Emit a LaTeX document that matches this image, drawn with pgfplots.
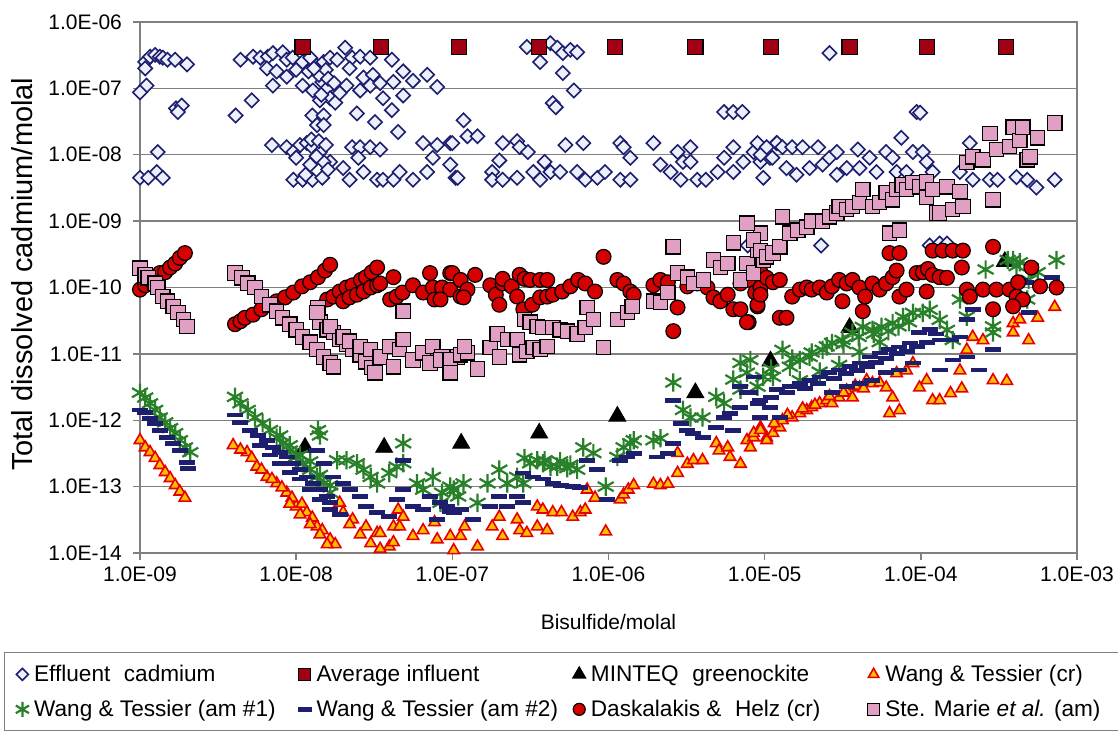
\documentclass[border=0pt]{standalone}
\usepackage{pgfplots}
\pgfplotsset{compat=1.18}
\usepackage{fontspec}
\setmainfont{Liberation Sans}

\definecolor{effnavy}{RGB}{30,30,110}
\definecolor{efffill}{RGB}{236,240,250}
\definecolor{influent}{RGB}{160,0,20}
\definecolor{wtorange}{RGB}{255,190,0}
\definecolor{wtred}{RGB}{230,0,0}
\definecolor{wtgreen}{RGB}{40,128,40}
\definecolor{dhred}{RGB}{215,0,0}
\definecolor{smpink}{RGB}{225,160,195}

\begin{document}
\begin{tikzpicture}
\begin{axis}[
    width=468.5pt, height=265.5pt, scale only axis,
    xmode=log, ymode=log,
    xmin=1e-9, xmax=1e-3, ymin=1e-14, ymax=1e-6,
    clip=false,
    xtick={1e-9,1e-8,1e-7,1e-6,1e-5,1e-4,1e-3},
    xticklabels={1.0E-09,1.0E-08,1.0E-07,1.0E-06,1.0E-05,1.0E-04,1.0E-03},
    ytick={1e-14,1e-13,1e-12,1e-11,1e-10,1e-9,1e-8,1e-7,1e-6},
    yticklabels={1.0E-14,1.0E-13,1.0E-12,1.0E-11,1.0E-10,1.0E-09,1.0E-08,1.0E-07,1.0E-06},
    xminorticks=false, yminorticks=false,
    tick align=outside, tick pos=left, major tick length=3.5pt,
    tick style={gray, line width=0.7pt},
    axis line style={gray, line width=0.7pt},
    ymajorgrids, grid style={gray, line width=0.7pt},
    ticklabel style={font=\fontsize{10.5}{12}\selectfont},
    yticklabel style={xshift=-2pt},
    xlabel={Bisulfide/molal},
    ylabel={Total dissolved cadmium/molal},
    xlabel style={at={(axis description cs:0.5,-0.13)}, anchor=center, font=\fontsize{10.5}{12}\selectfont},
    ylabel style={at={(axis description cs:-0.126,0.525)}, anchor=center, font=\fontsize{14.5}{16}\selectfont},
    legend columns=4,
    legend cell align=left,
    legend image code/.code={\path (0pt,-3.5pt) (9pt,3.5pt); \draw[#1] plot coordinates {(5.5pt,0pt)};},
    legend style={at={(axis description cs:-0.1451,-0.1864)}, anchor=north west,
        draw=gray, line width=0.7pt, inner xsep=3pt, inner ysep=4pt, row sep=3.8pt,
        font=\fontsize{11.3}{13}\selectfont,
        /tikz/every even column/.append style={column sep=0pt}},
]

% Effluent cadmium
\addplot[only marks, mark=square*, mark size=2.5pt,
    mark options={rotate=45, draw=effnavy, fill=efffill, line width=0.8pt},
    legend image post style={mark size=2.1pt}] coordinates {
(1.08e-9,2.5e-7)(1.16e-9,3.0e-7)(1.25e-9,3.2e-7)(1.34e-9,3.0e-7)(1.4e-9,2.9e-7)(1.5e-9,2.7e-7)
(1.68e-9,2.7e-7)(2.0e-9,2.3e-7)(1.08e-9,2.0e-7)(1.1e-9,1.1e-7)(1.0e-9,8.7e-8)(1.7e-9,5.0e-8)
(1.85e-9,5.5e-8)(1.75e-9,4.4e-8)(1.3e-9,1.1e-8)(1.0e-9,4.5e-9)(1.13e-9,4.5e-9)(1.28e-9,5.5e-9)(1.4e-9,4.5e-9)
(4.4e-9,2.7e-7)(5.2e-9,6.6e-8)(4.1e-9,3.9e-8)(5.3e-9,3.0e-7)(5.9e-9,2.9e-7)(6.6e-9,3.0e-7)
(7.1e-9,3.4e-7)(8.2e-9,3.5e-7)(8.7e-9,2.7e-7)(9.5e-9,2.9e-7)(6.5e-9,2.0e-7)(7.5e-9,1.8e-7)
(8.7e-9,1.5e-7)(1.0e-8,1.9e-7)(1.1e-8,2.5e-7)(1.23e-8,2.9e-7)(1.36e-8,2.2e-7)(1.5e-8,2.5e-7)
(1.65e-8,2.9e-7)(1.83e-8,2.7e-7)(7.1e-9,1.1e-7)(1.1e-8,1.1e-7)(1.28e-8,9.3e-8)(1.47e-8,1.25e-7)
(1.58e-8,1.0e-7)(1.65e-8,7.1e-8)(1.78e-8,6.1e-8)(1.42e-8,6.6e-8)(1.27e-8,3.9e-8)(1.5e-8,3.9e-8)
(1.36e-8,2.8e-8)(1.5e-8,2.8e-8)(7.0e-9,1.4e-8)(8.7e-9,1.3e-8)(9.6e-9,1.1e-8)(1.06e-8,1.4e-8)
(1.17e-8,1.5e-8)(1.27e-8,1.3e-8)(1.42e-8,1.1e-8)(1.65e-8,7.8e-9)(1.5e-8,7.8e-9)(1.23e-8,7.1e-9)
(1.0e-8,9.0e-9)(9.6e-9,4.2e-9)(1.1e-8,4.2e-9)(1.27e-8,4.2e-9)(1.47e-8,4.5e-9)(2.0e-8,6.3e-9)
(2.2e-8,4.2e-9)(2.06e-8,4.1e-7)(2.28e-8,2.9e-7)(2.57e-8,3.0e-7)(2.98e-8,2.9e-7)(2.2e-8,2.0e-7)
(2.7e-8,1.45e-7)(3.1e-8,1.6e-7)(2.1e-8,1.1e-7)(2.57e-8,9.3e-8)(2.98e-8,1.1e-7)(3.45e-8,1.2e-7)
(4.2e-8,1.25e-7)(4.85e-8,7.8e-8)(3.6e-8,7.1e-8)(4.1e-8,4.7e-8)(2.45e-8,4.2e-8)(3.2e-8,3.1e-8)
(4.5e-8,2.2e-8)(5.6e-8,1.3e-7)(6.9e-8,1.6e-7)(8.0e-8,1.05e-7)(4.85e-8,1.8e-7)(4.1e-8,2.7e-7)
(2.28e-8,1.3e-8)(2.57e-8,1.3e-8)(2.98e-8,1.3e-8)(3.45e-8,1.2e-8)(2.5e-8,9.0e-9)(2.7e-8,5.5e-9)
(3.3e-8,4.2e-9)(3.6e-8,4.2e-9)(4.2e-8,4.2e-9)(4.6e-8,5.5e-9)(5.6e-8,4.2e-9)(6.5e-8,1.5e-8)
(6.9e-8,5.5e-9)(8.0e-8,1.4e-8)(7.5e-8,9.0e-9)(9.7e-8,1.5e-8)(9.7e-8,7.1e-9)(1.05e-7,4.5e-9)
(1.2e-8,1.8e-7)(1.4e-8,1.6e-7)(1.55e-8,1.9e-7)(1.3e-8,2.0e-7)(1.6e-8,1.4e-7)(1.75e-8,1.2e-7)
(1.9e-8,8.5e-8)(1.45e-8,8.0e-8)(1.25e-8,1.7e-8)(1.4e-8,1.6e-8)(1.55e-8,1.4e-8)(1.35e-8,9.5e-9)
(1.6e-8,6.0e-9)(1.15e-8,5.0e-9)
(3.0e-7,4.2e-7)(3.65e-7,2.5e-7)(4.25e-7,4.8e-7)(4.7e-7,4.1e-7)(5.1e-7,3.4e-7)(5.7e-7,3.8e-7)
(6.3e-7,3.5e-7)(5.1e-7,1.7e-7)(6.0e-7,9.3e-8)(4.4e-7,6.0e-8)(4.6e-7,5.2e-8)(1.18e-7,3.3e-8)
(1.25e-7,1.9e-8)(1.45e-7,1.9e-8)(1.0e-7,1.5e-8)(2.1e-7,1.5e-8)(2.6e-7,1.6e-8)(2.7e-7,1.3e-8)
(3.05e-7,1.1e-8)(5.3e-7,1.4e-8)(6.9e-7,1.5e-8)(1.19e-6,1.5e-8)(1.25e-6,1.3e-8)(1.94e-6,1.5e-8)
(1.08e-7,4.5e-9)(1.8e-7,5.5e-9)(2.0e-7,8.2e-9)(1.8e-7,4.2e-9)(2.1e-7,4.2e-9)(2.6e-7,4.5e-9)
(3.3e-7,5.5e-9)(3.9e-7,7.8e-9)(3.65e-7,4.2e-9)(4.25e-7,5.5e-9)(4.9e-7,5.5e-9)(6.3e-7,5.5e-9)
(7.1e-7,4.2e-9)(8.5e-7,4.5e-9)(9.5e-7,5.5e-9)(1.19e-6,4.2e-9)(1.38e-6,4.2e-9)(1.38e-6,9.0e-9)
(2.15e-6,7.1e-9)(2.5e-6,5.5e-9)(2.77e-6,1.1e-8)(3.0e-6,7.8e-9)(3.35e-6,1.3e-8)(3.35e-6,7.8e-9)
(2.9e-6,4.2e-9)(3.7e-6,4.2e-9)(4.2e-6,4.2e-9)(5.0e-6,5.5e-9)(5.5e-6,9.0e-9)(6.3e-6,1.3e-8)
(6.3e-6,5.5e-9)(7.3e-6,7.8e-9)(8.5e-6,1.1e-8)(9.0e-6,1.5e-8)(9.4e-6,7.8e-9)(9.8e-6,4.5e-9)
(1.08e-5,9.0e-9)(1.19e-5,1.5e-8)(5.5e-6,4.4e-8)(6.3e-6,4.4e-8)(7.2e-6,4.4e-8)
(2.6e-5,3.4e-7)(9.4e-5,4.4e-8)(9.9e-5,4.3e-8)(9.4e-6,1.0e-8)(1.03e-5,1.3e-8)(1.12e-5,9.0e-9)
(1.2e-5,1.5e-8)(1.3e-5,1.3e-8)(1.38e-5,6.3e-9)(1.5e-5,1.3e-8)(1.6e-5,5.0e-9)(1.75e-5,1.3e-8)
(1.94e-5,6.3e-9)(2.2e-5,1.3e-8)(2.35e-5,7.1e-9)(2.6e-5,9.0e-9)(2.9e-5,1.1e-8)(2.9e-5,5.0e-9)
(3.35e-5,6.3e-9)(3.95e-5,1.2e-8)(4.05e-5,6.3e-9)(4.7e-5,9.0e-9)(5.2e-5,5.5e-9)(6.0e-5,1.1e-8)
(6.6e-5,9.0e-9)(7.0e-5,5.5e-9)(7.5e-5,1.8e-8)(8.1e-5,5.5e-9)(8.9e-5,1.1e-8)(1.03e-4,1.1e-8)
(1.09e-4,7.8e-9)(1.19e-4,5.5e-9)(2.06e-4,1.5e-8)(2.77e-4,4.2e-9)(3.1e-4,4.2e-9)(4.1e-4,4.6e-9)
(4.8e-4,4.2e-9)(5.5e-4,3.2e-9)(7.2e-4,4.2e-9)(1.78e-4,5.5e-9)(2.15e-4,4.2e-9)
(2.3e-5,4.3e-10)(7.8e-6,4.3e-10)(1.14e-4,4.3e-10)(1.32e-4,4.6e-10)(1.47e-4,4.6e-10)
};
\addlegendentry{\makebox[127.5pt][l]{Effluent\hspace{0.6em}cadmium}}

% Average influent
\addplot[only marks, mark=square*, mark size=3.8pt,
    mark options={draw=black, fill=influent, line width=0.6pt},
    legend image post style={mark size=3pt}] coordinates {
(1.1e-8,4.2e-7)(3.5e-8,4.2e-7)(1.1e-7,4.2e-7)(3.6e-7,4.2e-7)(1.1e-6,4.2e-7)
(3.6e-6,4.2e-7)(1.1e-5,4.2e-7)(3.5e-5,4.2e-7)(1.1e-4,4.2e-7)(3.5e-4,4.2e-7)
};
\addlegendentry{\makebox[123.5pt][l]{Average influent}}

% MINTEQ greenockite
\addplot[only marks, mark=triangle*, mark size=4.9pt,
    mark options={draw=black, fill=black},
    legend image post style={mark size=3.6pt}] coordinates {
(1.14e-8,3.9e-13)(3.66e-8,3.9e-13)(1.14e-7,4.5e-13)(3.6e-7,6.4e-13)(1.14e-6,1.15e-12)
(3.6e-6,2.6e-12)(1.09e-5,7.8e-12)(3.5e-5,2.5e-11)(3.45e-4,2.46e-10)
};
\addlegendentry{\makebox[133.5pt][l]{MINTEQ\hspace{0.6em}greenockite}}

% Wang & Tessier (cr)
\addplot[only marks, mark=triangle*, mark size=3.3pt,
    mark options={draw=wtred, fill=wtorange, line width=0.8pt},
    legend image post style={mark size=3pt}] coordinates {
(1.0e-9,5.0e-13)(1.08e-9,3.9e-13)(1.16e-9,3.3e-13)(1.25e-9,2.7e-13)(1.34e-9,2.1e-13)
(1.45e-9,1.65e-13)(1.56e-9,1.34e-13)(1.68e-9,1.05e-13)(1.8e-9,8.4e-14)(1.94e-9,6.8e-14)
(3.95e-9,4.2e-13)(4.85e-9,3.3e-13)(5.6e-9,2.0e-13)(6.5e-9,1.4e-13)(7.5e-9,1.12e-13)
(8.7e-9,8.1e-14)(1.0e-8,5.0e-14)(1.17e-8,4.1e-14)(1.36e-8,2.5e-14)(1.65e-8,1.6e-14)
(4.4e-9,3.6e-13)(5.2e-9,2.7e-13)(6.0e-9,1.8e-13)(7.0e-9,1.3e-13)(8.1e-9,9.7e-14)
(9.4e-9,6.8e-14)(1.09e-8,5.5e-14)(1.27e-8,3.4e-14)(1.47e-8,2.2e-14)(1.78e-8,1.35e-14)
(9.1e-9,5.5e-14)(1.06e-8,3.8e-14)(1.23e-8,2.7e-14)(1.42e-8,1.9e-14)(1.58e-8,1.35e-14)
(1.9e-8,5.7e-14)(2.0e-8,4.1e-14)(2.3e-8,3.2e-14)(2.8e-8,2.5e-14)(3.3e-8,2.0e-14)
(3.95e-8,1.25e-14)(4.2e-8,2.5e-14)(4.5e-8,4.5e-14)(2.2e-8,2.7e-14)(2.57e-8,1.9e-14)
(3.0e-8,1.4e-14)(3.45e-8,1.15e-14)
(3.45e-8,2.0e-14)(4.2e-8,1.45e-14)(4.85e-8,3.5e-14)(4.6e-8,2.5e-14)(5.6e-8,1.8e-14)
(6.5e-8,2.2e-14)(7.7e-8,2.9e-14)(8.0e-8,1.6e-14)(9.7e-8,1.8e-14)(1.02e-7,1.1e-14)
(1.13e-7,1.8e-14)(1.2e-7,2.5e-14)(1.45e-7,1.25e-14)(1.8e-7,2.5e-14)(2.0e-7,3.5e-14)
(2.1e-7,1.8e-14)(2.6e-7,3.2e-14)(2.7e-7,2.2e-14)(3.0e-7,2.0e-14)(3.5e-7,2.5e-14)
(4.05e-7,2.2e-14)(3.5e-7,5.0e-14)(3.8e-7,4.5e-14)(4.4e-7,4.1e-14)(5.0e-7,4.1e-14)
(5.9e-7,3.5e-14)(6.6e-7,4.1e-14)(7.1e-7,4.5e-14)(7.3e-7,9.0e-14)(8.2e-7,6.8e-14)
(9.6e-7,2.1e-14)(1.19e-6,6.4e-14)(1.25e-6,7.6e-14)(1.34e-6,9.0e-14)(1.45e-6,1.05e-13)
(1.94e-6,1.1e-13)(2.15e-6,1.05e-13)(2.4e-6,1.1e-13)(2.77e-6,1.6e-13)(2.77e-6,3.2e-13)
(3.2e-6,2.2e-13)(3.5e-6,2.5e-13)(4.0e-6,2.5e-13)(4.9e-6,4.5e-13)(5.1e-6,3.5e-13)
(5.8e-6,3.9e-13)(6.0e-6,2.8e-13)(7.0e-6,2.2e-13)(7.7e-6,5.0e-13)(8.5e-6,5.5e-13)
(9.4e-6,7.8e-13)(1.03e-5,5.5e-13)(1.2e-5,9.0e-13)
(8.1e-6,3.9e-13)(8.5e-6,6.4e-13)(9.4e-6,7.1e-13)(1.03e-5,5.0e-13)(1.13e-5,6.4e-13)
(1.25e-5,7.8e-13)(1.3e-5,1.0e-12)(1.5e-5,1.1e-12)(1.68e-5,1.27e-12)(1.86e-5,1.41e-12)
(2.0e-5,1.57e-12)(2.25e-5,1.8e-12)(2.5e-5,2.0e-12)(2.7e-5,1.8e-12)(3.0e-5,2.2e-12)
(3.35e-5,2.8e-12)(3.65e-5,2.2e-12)(4.05e-5,3.1e-12)(4.5e-5,4.0e-12)(4.9e-5,3.6e-12)
(5.45e-5,3.7e-12)(6.0e-5,3.1e-12)(6.6e-5,2.2e-12)(6.3e-5,1.27e-12)(7.3e-5,1.41e-12)
(7.0e-5,5.1e-12)(8.1e-5,5.6e-12)(8.9e-5,7.2e-12)(9.8e-5,3.1e-12)(1.09e-4,4.0e-12)
(1.19e-4,2.0e-12)(1.32e-4,2.0e-12)(1.55e-4,2.55e-12)(1.83e-4,3.0e-12)(1.78e-4,5.6e-12)
(1.97e-4,1.15e-11)(2.15e-4,1.8e-11)(2.5e-4,1.6e-11)(2.9e-4,4.0e-12)(3.55e-4,3.9e-12)
(3.9e-4,2.9e-11)(4.3e-4,3.3e-11)(4.9e-4,1.6e-11)(5.6e-4,3.5e-11)(7.2e-4,5.1e-11)(3.9e-4,2.1e-11)
(1.15e-5,9.0e-13)(1.4e-5,1.2e-12)(1.75e-5,1.5e-12)(2.1e-5,1.7e-12)(2.6e-5,2.3e-12)
(3.2e-5,2.6e-12)(3.8e-5,3.3e-12)(4.3e-5,3.0e-12)
};
\addlegendentry{\makebox[112.5pt][l]{Wang \& Tessier (cr)}}

% Wang & Tessier (am #1)
\addplot[only marks, mark=asterisk, mark size=4.6pt,
    mark options={draw=wtgreen, line width=1.1pt},
    legend image post style={mark size=3.8pt}] coordinates {
(1.0e-9,2.6e-12)(1.08e-9,2.2e-12)(1.16e-9,1.8e-12)(1.25e-9,1.43e-12)(1.34e-9,1.1e-12)
(1.45e-9,9.3e-13)(1.56e-9,7.6e-13)(1.68e-9,6.4e-13)(1.8e-9,5.0e-13)(1.94e-9,3.9e-13)(2.1e-9,3.3e-13)
(4.06e-9,2.25e-12)(4.4e-9,1.8e-12)(4.9e-9,1.43e-12)(5.45e-9,1.1e-12)(6.1e-9,9.0e-13)
(6.8e-9,7.1e-13)(7.5e-9,5.5e-13)(8.2e-9,4.5e-13)(9.1e-9,3.5e-13)(1.0e-8,2.8e-13)
(1.1e-8,2.25e-13)(1.23e-8,1.8e-13)(1.36e-8,1.4e-13)(1.5e-8,1.12e-13)(1.65e-8,8.1e-14)
(1.42e-8,5.9e-13)(1.38e-8,7.1e-13)(1.83e-8,2.5e-13)(2.1e-8,2.5e-13)(2.45e-8,2.25e-13)
(2.7e-8,1.8e-13)(3.0e-8,1.4e-13)(3.3e-8,1.12e-13)(3.95e-8,1.6e-13)(4.4e-8,2.0e-13)
(4.85e-8,4.5e-13)(4.85e-8,2.25e-13)(5.95e-8,1.12e-13)(6.5e-8,9.0e-14)(7.5e-8,1.4e-13)
(8.6e-8,8.1e-14)(9.7e-8,1.0e-13)(1.09e-7,7.1e-14)
(7.9e-9,5.9e-13)(9.1e-9,4.2e-13)(1.06e-8,3.0e-13)(1.23e-8,2.4e-13)(1.42e-8,1.5e-13)(1.65e-8,1.05e-13)
(8.4e-8,5.7e-14)(1.02e-7,9.0e-14)(1.18e-7,1.12e-13)(1.45e-7,5.7e-14)(1.68e-7,1.12e-13)
(2.0e-7,1.8e-13)(2.25e-7,1.12e-13)(2.6e-7,1.4e-13)(2.85e-7,1.12e-13)(3.15e-7,2.25e-13)
(3.5e-7,2.5e-13)(3.8e-7,2.25e-13)(4.25e-7,2.0e-13)(4.7e-7,2.0e-13)(5.45e-7,1.9e-13)
(6.3e-7,1.8e-13)(6.9e-7,3.9e-13)(8.0e-7,3.2e-13)(9.6e-7,1.0e-13)(1.14e-6,2.8e-13)
(1.25e-6,3.9e-13)(1.38e-6,4.5e-13)(1.45e-6,5.0e-13)(1.94e-6,5.0e-13)(2.15e-6,5.35e-13)
(2.6e-6,3.7e-12)(3.0e-6,1.43e-12)(3.35e-6,1.1e-12)(4.0e-6,1.1e-12)(4.9e-6,2.25e-12)
(5.5e-6,1.8e-12)(6.3e-6,4.1e-12)(7.0e-6,2.9e-12)(8.1e-6,8.1e-12)(9.0e-6,3.2e-12)(9.8e-6,4.5e-12)
(2.9e-7,2.7e-13)(3.9e-7,2.5e-13)(4.9e-7,2.4e-13)(5.7e-7,2.15e-13)
(7.0e-6,7.3e-12)(7.7e-6,5.2e-12)(1.3e-5,1.15e-11)(1.13e-5,4.5e-12)(1.45e-5,6.4e-12)
(1.68e-5,8.1e-12)(1.94e-5,9.0e-12)(2.35e-5,1.15e-11)(2.7e-5,1.46e-11)(3.15e-5,1.62e-11)
(3.65e-5,2.1e-11)(4.25e-5,2.55e-11)(4.9e-5,2.3e-11)(5.6e-5,2.55e-11)(6.6e-5,2.9e-11)
(7.7e-5,3.6e-11)(8.9e-5,4.15e-11)(1.03e-4,4.15e-11)(1.14e-4,4.6e-11)(1.32e-4,3.25e-11)
(1.47e-4,2.3e-11)(1.6e-4,1.62e-11)(1.78e-4,6.6e-11)(1.97e-4,3.65e-11)(2.6e-4,1.87e-10)
(2.9e-4,2.1e-11)(3.9e-4,2.6e-10)(4.3e-4,2.4e-10)(4.9e-4,1.3e-10)(5.6e-4,1.7e-10)
(7.4e-4,2.6e-10)(2.9e-4,2.6e-11)(4.8e-4,6.6e-11)(3.6e-4,2.6e-10)(4.1e-4,2.1e-10)
(1.68e-5,4.0e-12)(2.25e-5,5.4e-12)(3.0e-5,6.8e-12)(4.05e-5,1.07e-11)(5.45e-5,1.5e-11)
(1.1e-5,6.0e-12)(1.5e-5,8.5e-12)(2.0e-5,1.05e-11)(2.5e-5,1.3e-11)(3.2e-5,1.4e-11)
(4.0e-5,1.8e-11)(5.0e-5,2.0e-11)(6.2e-5,2.2e-11)(7.2e-5,2.6e-11)(8.4e-5,3.0e-11)
};
\addlegendentry{Wang \& Tessier (am \#1)}

% Wang & Tessier (am #2)
\addplot[only marks, mark=-, mark size=4pt,
    mark options={draw=effnavy, line width=2.4pt},
    legend image post style={mark size=3.5pt}] coordinates {
(1.0e-9,1.43e-12)(1.08e-9,1.3e-12)(1.16e-9,1.07e-12)(1.25e-9,9.0e-13)(1.34e-9,7.1e-13)
(1.49e-9,5.5e-13)(1.63e-9,4.5e-13)(1.8e-9,3.5e-13)(2.0e-9,2.3e-13)(2.03e-9,1.9e-13)
(4.06e-9,1.2e-12)(4.4e-9,9.3e-13)(5.05e-9,7.1e-13)(5.7e-9,5.9e-13)(6.5e-9,5.0e-13)
(7.1e-9,3.9e-13)(7.9e-9,3.3e-13)(8.7e-9,2.8e-13)(9.6e-9,2.25e-13)(1.06e-8,1.8e-13)
(1.17e-8,1.4e-13)(1.29e-8,1.12e-13)(1.42e-8,9.0e-14)(1.58e-8,7.1e-14)(1.65e-8,5.7e-14)
(5.9e-9,4.2e-13)(6.8e-9,3.0e-13)(7.9e-9,2.25e-13)(9.1e-9,1.65e-13)(1.06e-8,1.3e-13)
(1.23e-8,9.0e-14)(1.42e-8,6.4e-14)(1.65e-8,4.5e-14)(1.9e-8,3.8e-14)
(1.36e-8,3.5e-13)(1.5e-8,2.25e-13)(1.73e-8,1.4e-13)(2.0e-8,1.12e-13)(2.2e-8,9.0e-14)
(2.57e-8,7.1e-14)(2.8e-8,5.0e-14)(3.3e-8,4.1e-14)(3.95e-8,3.5e-14)(4.4e-8,6.4e-14)
(4.85e-8,9.0e-14)(4.85e-8,2.5e-13)(5.6e-8,5.0e-14)(6.5e-8,4.5e-14)(7.2e-8,7.1e-14)
(8.0e-8,3.2e-14)(9.2e-8,5.0e-14)(1.02e-7,4.1e-14)
(8.4e-8,5.7e-14)(9.7e-8,4.2e-14)(1.13e-7,4.5e-14)(1.36e-7,3.2e-14)(1.75e-7,5.0e-14)
(2.0e-7,7.1e-14)(2.25e-7,5.0e-14)(2.6e-7,7.1e-14)(2.85e-7,5.7e-14)(2.85e-7,1.6e-13)
(3.3e-7,1.4e-13)(3.8e-7,1.3e-13)(4.4e-7,1.12e-13)(5.0e-7,1.05e-13)(5.9e-7,1.0e-13)
(6.6e-7,9.7e-14)(7.3e-7,2.5e-13)(8.5e-7,1.8e-13)(9.8e-7,6.4e-14)(1.19e-6,2.5e-13)
(1.32e-6,2.8e-13)(1.45e-6,3.2e-13)(2.05e-6,2.8e-13)(2.4e-6,3.2e-13)(2.6e-6,4.5e-13)
(2.6e-6,2.0e-12)(2.9e-6,9.0e-13)(3.2e-6,7.1e-13)(3.5e-6,6.4e-13)(4.0e-6,5.5e-13)
(4.9e-6,7.8e-13)(5.5e-6,1.1e-12)(6.0e-6,1.27e-12)(6.3e-6,7.1e-13)(7.0e-6,1.57e-12)
(7.7e-6,2.6e-12)(8.5e-6,4.5e-12)(9.0e-6,1.8e-12)(9.4e-6,1.1e-12)
(7.0e-6,3.2e-12)(8.1e-6,2.6e-12)(9.4e-6,2.0e-12)(1.08e-5,1.57e-12)(1.25e-5,1.1e-12)
(1.2e-5,2.9e-12)(1.45e-5,3.2e-12)(1.68e-5,3.6e-12)(1.94e-5,4.0e-12)(2.25e-5,4.5e-12)
(2.6e-5,5.2e-12)(3.0e-5,5.7e-12)(3.5e-5,6.4e-12)(4.05e-5,7.3e-12)(4.7e-5,9.0e-12)
(5.45e-5,1.03e-11)(6.3e-5,1.15e-11)(7.3e-5,1.27e-11)(8.5e-5,1.46e-11)(9.8e-5,2.1e-11)
(1.14e-4,2.3e-11)(1.32e-4,1.62e-11)(1.55e-4,1.62e-11)(1.78e-4,1.8e-11)(1.97e-4,3.3e-11)
(2.15e-4,4.7e-11)(2.35e-4,5.7e-12)(2.9e-4,1.15e-11)(4.3e-4,1.3e-10)(4.9e-4,4.2e-11)
(6.9e-4,1.4e-10)(4.7e-4,1.2e-10)(2.7e-5,2.6e-12)(3.35e-5,3.2e-12)(4.05e-5,3.6e-12)
(4.9e-5,4.0e-12)(6.0e-5,5.2e-12)(7.3e-5,5.7e-12)(8.9e-5,7.3e-12)(1.32e-4,5.7e-12)
(1.6e-4,8.1e-12)(1.97e-4,9.0e-12)
(1.1e-5,2.2e-12)(1.4e-5,2.6e-12)(1.8e-5,3.0e-12)(2.2e-5,3.6e-12)(2.8e-5,4.2e-12)
(3.3e-5,5.0e-12)(3.9e-5,5.6e-12)(4.5e-5,6.5e-12)(5.2e-5,7.5e-12)(6.0e-5,8.5e-12)
(7.0e-5,1.0e-11)(8.2e-5,1.1e-11)(9.5e-5,1.3e-11)(1.1e-4,1.5e-11)(1.25e-4,2.0e-11)
};
\addlegendentry{Wang \& Tessier (am \#2)}

% Daskalakis & Helz (cr)
\addplot[only marks, mark=*, mark size=3.7pt,
    mark options={draw=black, fill=dhred, line width=0.6pt},
    legend image post style={mark size=3pt}] coordinates {
(1.0e-9,9.3e-11)(1.08e-9,1.08e-10)(1.16e-9,1.3e-10)(1.25e-9,1.43e-10)(1.34e-9,1.65e-10)
(1.45e-9,1.7e-10)(1.56e-9,2.0e-10)(1.68e-9,2.3e-10)(1.8e-9,2.8e-10)(1.94e-9,3.3e-10)
(4.06e-9,2.8e-11)(4.4e-9,3.1e-11)(4.7e-9,3.5e-11)(5.3e-9,3.9e-11)(6.0e-9,4.7e-11)
(6.8e-9,5.5e-11)(7.5e-9,6.2e-11)(8.5e-9,7.1e-11)(9.6e-9,8.4e-11)(1.09e-8,1.04e-10)
(1.23e-8,1.2e-10)(1.38e-8,1.43e-10)(1.53e-8,1.8e-10)(1.65e-8,2.2e-10)
(1.58e-8,6.6e-11)(1.73e-8,7.3e-11)(1.9e-8,8.7e-11)(2.1e-8,1.0e-10)(2.3e-8,1.08e-10)
(2.6e-8,1.3e-10)(2.8e-8,1.43e-10)(3.05e-8,1.7e-10)(3.3e-8,2.0e-10)(2.0e-8,6.2e-11)
(2.2e-8,7.1e-11)(2.45e-8,7.8e-11)(2.7e-8,8.7e-11)(3.0e-8,1.0e-10)(3.3e-8,1.08e-10)(3.45e-8,1.15e-10)
(4.2e-8,1.43e-10)(4.0e-8,6.6e-11)(4.4e-8,7.3e-11)(4.8e-8,8.4e-11)(5.6e-8,1.08e-10)
(6.5e-8,8.4e-11)(7.2e-8,1.65e-10)(7.5e-8,1.0e-10)(7.7e-8,6.6e-11)(8.6e-8,1.0e-10)
(9.7e-8,1.65e-10)(9.7e-8,9.3e-11)(1.13e-7,7.3e-11)
(8.4e-8,6.6e-11)(1.0e-7,1.65e-10)(1.13e-7,1.3e-10)(1.25e-7,9.3e-11)(1.18e-7,7.1e-11)
(1.4e-7,1.55e-10)(1.75e-7,1.08e-10)(1.9e-7,7.8e-11)(2.1e-7,1.15e-10)(2.1e-7,1.35e-10)
(2.0e-7,5.5e-11)(2.4e-7,1.04e-10)(2.6e-7,7.3e-11)(2.7e-7,1.55e-10)(2.9e-7,1.35e-10)
(3.15e-7,1.3e-10)(3.65e-7,1.3e-10)(4.05e-7,1.3e-10)(2.85e-7,4.7e-11)(3.25e-7,5.5e-11)
(3.65e-7,7.1e-11)(4.05e-7,7.3e-11)(4.4e-7,7.8e-11)(5.05e-7,8.7e-11)(5.7e-7,1.04e-10)
(6.4e-7,1.3e-10)(7.1e-7,1.15e-10)(8.2e-7,8.7e-11)(9.3e-7,2.9e-10)(1.14e-6,1.3e-10)
(1.25e-6,1.15e-10)(1.38e-6,8.7e-11)(1.45e-6,7.8e-11)(1.94e-6,1.08e-10)(2.15e-6,1.3e-10)
(2.4e-6,1.2e-10)(2.77e-6,5.0e-11)(2.6e-6,2.2e-11)(3.2e-6,1.04e-10)(3.7e-6,1.15e-10)
(4.3e-6,1.0e-10)(4.7e-6,7.1e-11)(5.2e-6,6.2e-11)(5.8e-6,7.8e-11)(6.3e-6,4.7e-11)
(7.0e-6,1.15e-10)(8.1e-6,1.3e-10)(8.7e-6,8.4e-11)(9.4e-6,1.0e-10)(9.0e-6,5.2e-11)
(7.9e-6,3.0e-11)(9.4e-6,1.7e-10)
(7.0e-6,4.7e-11)(7.7e-6,3.0e-11)(9.0e-6,5.5e-11)(9.4e-6,7.8e-11)(1.03e-5,1.4e-10)
(1.13e-5,1.2e-10)(1.25e-5,1.3e-10)(1.25e-5,3.5e-11)(1.38e-5,3.5e-11)(1.5e-5,7.3e-11)
(1.68e-5,9.3e-11)(1.86e-5,1.0e-10)(2.0e-5,9.3e-11)(2.25e-5,1.0e-10)(2.5e-5,8.4e-11)
(2.7e-5,1.04e-10)(3.0e-5,1.3e-10)(3.35e-5,1.15e-10)(3.65e-5,1.3e-10)(4.05e-5,1.0e-10)
(4.4e-5,7.3e-11)(4.9e-5,1.15e-10)(5.45e-5,9.3e-11)(6.0e-5,1.15e-10)(6.6e-5,1.43e-10)
(7.0e-5,1.8e-10)(7.3e-5,7.3e-11)(8.1e-5,9.3e-11)(9.4e-5,1.65e-10)(1.03e-4,1.7e-10)
(1.11e-4,1.9e-10)(1.19e-4,1.55e-10)(1.32e-4,1.43e-10)(1.47e-4,1.4e-10)(6.3e-5,3.3e-10)
(7.3e-5,3.3e-10)(1.19e-4,3.6e-10)(1.38e-4,3.6e-10)(1.6e-4,3.6e-10)(1.86e-4,3.6e-10)
(1.83e-4,2.0e-10)(4.25e-5,4.4e-11)(3.15e-5,6.2e-11)(1.09e-4,8.7e-11)(1.97e-4,9.3e-11)
(2.06e-4,7.3e-11)(2.5e-4,9.3e-11)(3.05e-4,9.3e-11)(3.7e-4,9.3e-11)(4.1e-4,7.3e-11)
(4.5e-4,6.6e-11)(3.9e-4,5.2e-11)(2.9e-4,4.7e-11)(2.9e-4,4.1e-10)(5.1e-4,2.0e-10)
(5.8e-4,1.04e-10)(7.4e-4,1.0e-10)(4.2e-4,1.2e-10)
};
\addlegendentry{Daskalakis \&\hspace{0.6em}Helz (cr)}

% Ste. Marie et al. (am)
\addplot[only marks, mark=square*, mark size=3.6pt,
    mark options={draw=black, fill=smpink, line width=0.6pt},
    legend image post style={mark size=3pt}] coordinates {
(1.0e-9,1.95e-10)(1.08e-9,1.54e-10)(1.13e-9,1.4e-10)(1.25e-9,1.16e-10)(1.3e-9,1.0e-10)
(1.4e-9,7.3e-11)(1.5e-9,6.2e-11)(1.63e-9,5.2e-11)(1.75e-9,4.2e-11)(1.9e-9,3.3e-11)(2.0e-9,2.6e-11)
(4.06e-9,1.65e-10)(4.5e-9,1.4e-10)(4.9e-9,1.16e-10)(5.45e-9,1.0e-10)(6.0e-9,7.3e-11)
(6.8e-9,5.5e-11)(7.5e-9,4.4e-11)(8.2e-9,3.5e-11)(9.1e-9,2.8e-11)(1.0e-8,2.3e-11)
(1.1e-8,1.8e-11)(1.23e-8,1.5e-11)(1.36e-8,1.16e-11)(1.5e-8,9.0e-12)(1.65e-8,7.3e-12)(1.73e-8,6.4e-12)
(1.38e-8,5.0e-11)(1.42e-8,3.0e-11)(1.58e-8,2.3e-11)(1.73e-8,2.1e-11)(1.9e-8,1.65e-11)
(2.1e-8,1.4e-11)(2.3e-8,1.16e-11)(2.57e-8,9.7e-12)(2.8e-8,7.6e-12)(3.05e-8,6.2e-12)
(3.2e-8,5.2e-12)(1.36e-8,4.2e-11)(1.65e-8,2.6e-11)(2.0e-8,1.8e-11)(2.2e-8,1.55e-11)
(2.57e-8,1.3e-11)(3.0e-8,1.16e-11)
(3.45e-8,9.0e-12)(3.95e-8,1.3e-11)(4.2e-8,6.4e-12)(4.6e-8,1.16e-11)(4.85e-8,1.65e-11)
(4.85e-8,4.4e-11)(5.6e-8,8.1e-12)(6.5e-8,1.04e-11)(7.2e-8,7.3e-12)(7.5e-8,1.3e-11)
(8.6e-8,9.0e-12)(9.7e-8,6.4e-12)(1.08e-7,9.0e-12)
(8.4e-8,8.1e-12)(9.7e-8,8.1e-12)(1.13e-7,9.7e-12)(1.25e-7,1.04e-11)(1.2e-7,1.3e-11)
(1.45e-7,5.9e-12)(9.7e-8,5.2e-12)(1.75e-7,1.25e-11)(1.94e-7,2.0e-11)(2.0e-7,9.0e-12)
(2.25e-7,1.65e-11)(2.6e-7,1.65e-11)(2.7e-7,9.7e-12)(3.0e-7,1.08e-11)(3.3e-7,1.25e-11)
(3.65e-7,1.16e-11)(4.05e-7,1.3e-11)(2.9e-7,3.3e-11)(3.15e-7,3.0e-11)(3.5e-7,2.6e-11)
(3.8e-7,2.5e-11)(4.4e-7,2.5e-11)(4.9e-7,2.3e-11)(5.45e-7,2.2e-11)(6.3e-7,2.0e-11)
(7.1e-7,2.5e-11)(7.3e-7,5.0e-11)(8.0e-7,3.3e-11)(9.3e-7,1.25e-11)(1.14e-6,3.3e-11)
(1.32e-6,4.2e-11)(1.42e-6,5.2e-11)(2.6e-6,4.1e-10)(1.94e-6,6.2e-11)(2.15e-6,6.0e-11)
(2.4e-6,8.4e-11)(2.77e-6,1.65e-10)(3.2e-6,1.43e-10)(3.5e-6,1.15e-10)(4.05e-6,1.3e-10)
(4.7e-6,2.6e-10)(5.2e-6,2.0e-10)(5.8e-6,2.3e-10)(6.3e-6,4.7e-10)(7.0e-6,1.3e-10)
(7.7e-6,2.3e-10)(9.0e-6,3.6e-10)(9.4e-6,6.6e-10)(8.5e-6,1.65e-10)(9.8e-6,2.6e-10)
(7.7e-6,9.3e-10)(8.5e-6,5.2e-10)(9.4e-6,3.6e-10)(1.03e-5,2.9e-10)(1.13e-5,3.3e-10)
(1.25e-5,4.1e-10)(1.3e-5,1.16e-9)(1.45e-5,6.6e-10)(1.63e-5,7.3e-10)(1.86e-5,8.1e-10)
(2.0e-5,1.0e-9)(2.35e-5,1.0e-9)(2.6e-5,1.16e-9)(2.9e-5,1.33e-9)(3.0e-5,1.65e-9)
(3.35e-5,1.5e-9)(3.65e-5,1.65e-9)(4.05e-5,1.9e-9)(4.25e-5,3.0e-9)(4.9e-5,1.65e-9)
(5.45e-5,1.9e-9)(6.0e-5,2.7e-9)(6.6e-5,2.1e-9)(7.0e-5,3.0e-9)(7.6e-5,3.5e-9)
(8.1e-5,3.0e-9)(8.9e-5,3.8e-9)(9.8e-5,3.3e-9)(1.09e-4,3.9e-9)(1.09e-4,2.3e-9)
(1.19e-4,3.0e-9)(1.27e-4,1.33e-9)(1.32e-4,1.33e-9)(1.47e-4,3.3e-9)(1.6e-4,1.5e-9)
(1.78e-4,2.8e-9)(1.86e-4,1.65e-9)(6.3e-5,6.6e-10)(7.3e-5,7.3e-10)(1.97e-4,7.6e-9)
(2.15e-4,9.3e-9)(2.5e-4,8.4e-9)(2.77e-4,2.1e-8)(3.05e-4,1.2e-8)(2.9e-4,2.1e-9)
(3.7e-4,1.33e-8)(3.9e-4,2.6e-8)(4.3e-4,1.65e-8)(4.5e-4,2.6e-8)(4.8e-4,8.4e-9)
(5.0e-4,9.3e-9)(5.6e-4,1.8e-8)(7.2e-4,3.0e-8)
};
\addlegendentry{Ste. Marie \textit{et al.} (am)}

\end{axis}
\pgfresetboundingbox
\path[use as bounding box] (-70pt,-89pt) rectangle (489pt,276.5pt);
\end{tikzpicture}
\end{document}
